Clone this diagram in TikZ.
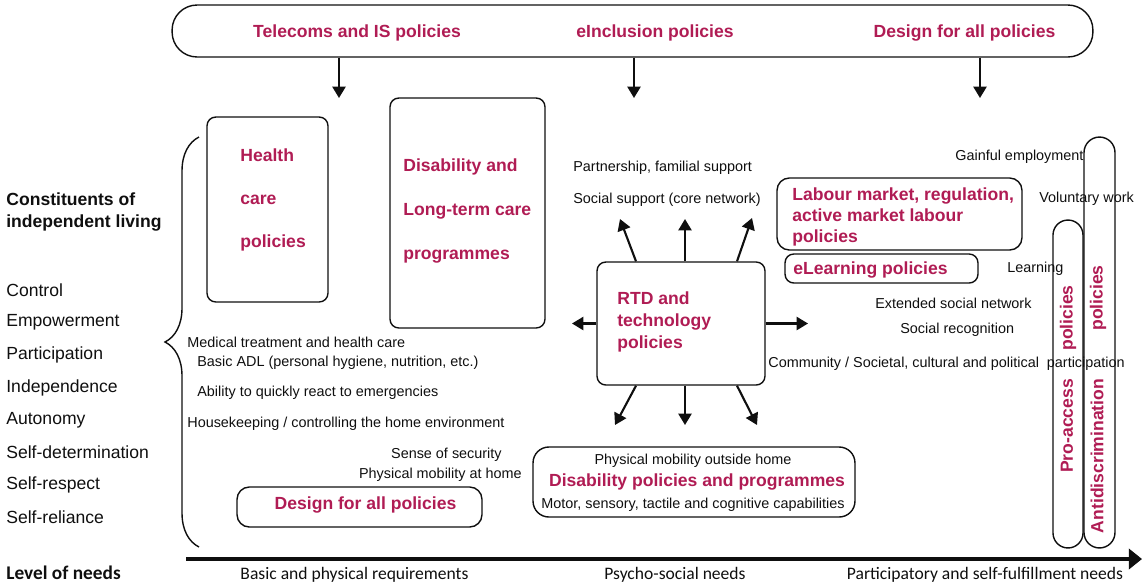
\documentclass[tikz,border=0pt]{standalone}
\usepackage{fontspec}
\setmainfont{Liberation Sans}
\newfontfamily\axisfont{Carlito}
\usepackage{tikz}
\usetikzlibrary{arrows.meta, positioning, calc, decorations.pathreplacing}
\definecolor{mycrimson}{RGB}{176,28,84}
\definecolor{myink}{RGB}{15,15,15}
\tikzset{
  polbox/.style={rectangle, draw=myink, line width=0.8pt, inner sep=0pt,
    rounded corners=6pt},
  capsule/.style={rectangle, draw=myink, line width=0.8pt, inner sep=0pt},
  poltext/.style={font=\bfseries\fontsize{10}{12}\selectfont, color=mycrimson,
    inner sep=0pt},
  needtext/.style={font=\fontsize{8.2}{10}\selectfont, color=myink,
    inner sep=0pt},
  constext/.style={font=\fontsize{10}{12}\selectfont, color=myink,
    anchor=west, inner sep=0pt},
  axistext/.style={font=\axisfont\fontsize{10}{12}\selectfont, color=myink,
    inner sep=0pt},
  arrow/.style={-{Triangle[length=6.5pt, width=7.5pt]}, line width=1.2pt,
    color=myink},
  axisarrow/.style={-{Triangle[length=7.5pt, width=11.5pt]}, line width=2.3pt,
    color=myink},
  line/.style={line width=0.8pt, color=myink}
}

\begin{document}
\begin{tikzpicture}[x=0.02cm, y=-0.02cm]
  \useasboundingbox (0,0) rectangle (1143,586);

  % Policy banner on top
  \node[polbox, rounded corners=0.5cm, minimum width=18.42cm,
    minimum height=1.04cm] (banner) at (632.5,31) {};
  \node[poltext] (telecoms) at (357,33) {Telecoms and IS policies};
  \node[poltext] (eincl) at (655,33) {eInclusion policies};
  \node[poltext] (dfatop) at (964.5,33) {Design for all policies};
  \foreach \name/\xx in {ta/339, tb/634, tc/980} {
    \coordinate (\name) at (\xx,98);
    \draw[arrow] (banner.south -| \name) -- (\name);
  }

  % Constituents of independent living
  \node[constext, font=\bfseries\fontsize{10}{12}\selectfont, align=left]
    (const) at (6,212) {Constituents of\\independent living};
  \foreach \lbl [count=\i] in {Control, Empowerment, Participation,
      Independence, Autonomy, Self-determination, Self-respect, Self-reliance}
    \node[constext] (c\i) at (6,257.5+32.5*\i) {\lbl};
  \draw[line, decorate, decoration={brace, amplitude=0.68cm}]
    (199,547) -- (199,137);

  % Care boxes
  \node[polbox, rounded corners=5pt, minimum width=2.42cm,
    minimum height=3.7cm] (health) at (267.5,209.5) {};
  \node[poltext, anchor=west, align=left,
    font=\bfseries\fontsize{10}{24.5}\selectfont] (healthtxt) at (240,200)
    {Health\\care\\policies};
  \node[polbox, rounded corners=5pt, minimum width=3.1cm,
    minimum height=4.6cm] (ltc) at (467.5,213) {};
  \node[poltext, anchor=west, align=left,
    font=\bfseries\fontsize{10}{24.8}\selectfont] (ltctxt) at (403,211)
    {Disability and\\Long-term care\\programmes};

  % RTD in the middle
  \node[polbox, rounded corners=5pt, minimum width=3.36cm,
    minimum height=2.46cm] (rtd) at (681,323.5) {};
  \node[poltext, anchor=west, align=left,
    font=\bfseries\fontsize{10}{12.5}\selectfont] (rtdtxt) at (617,322)
    {RTD and\\technology\\policies};
  \coordinate (up1) at (620,219);
  \coordinate (up2) at (685,219);
  \coordinate (up3) at (752,218);
  \coordinate (dn1) at (615,425);
  \coordinate (dn2) at (685,425);
  \coordinate (dn3) at (757,425);
  \foreach \dx/\n in {-45/1, 4/2, 56/3} {
    \draw[arrow] ($(rtd.north)+(\dx,0)$) -- (up\n);
    \draw[arrow] ($(rtd.south)+(\dx,0)$) -- (dn\n);
  }
  \coordinate (lt) at (572,323.5);
  \coordinate (rt) at (808,323.5);
  \draw[arrow] (rtd.west) -- (lt);
  \draw[arrow] (rtd.east) -- (rt);

  % Needs around RTD
  \node[needtext, anchor=west] (partner) at (573,168)
    {Partnership, familial support};
  \node[needtext, anchor=west] (socsup) at (573,200)
    {Social support (core network)};
  \node[needtext, anchor=west] (medical) at (187,342)
    {Medical treatment and health care};
  \node[needtext, anchor=west] (adl) at (197,363)
    {Basic ADL (personal hygiene, nutrition, etc.)};
  \node[needtext, anchor=west] (react) at (197,393)
    {Ability to quickly react to emergencies};
  \node[needtext, anchor=west] (house) at (187,424)
    {Housekeeping / controlling the home environment};
  \node[needtext, anchor=east] (secure) at (502,455) {Sense of security};
  \node[needtext, anchor=east] (mobhome) at (522,475)
    {Physical mobility at home};

  % Labour and learning
  \node[polbox, rounded corners=7pt, minimum width=4.9cm,
    minimum height=1.44cm] (labour) at (899.5,214) {};
  \node[poltext, anchor=west, align=left,
    font=\bfseries\fontsize{10}{12.2}\selectfont] (labourtxt) at (792,217)
    {Labour market, regulation,\\active market labour\\policies};
  \node[polbox, rounded corners=5pt, minimum width=3.86cm,
    minimum height=0.58cm] (elearn) at (881.5,268.5) {};
  \node[poltext, anchor=west] (elearntxt) at (793,270) {eLearning policies};

  % Participatory needs
  \node[needtext, anchor=west] (gainful) at (955,157) {Gainful employment};
  \node[needtext, anchor=west] (volwork) at (1039,199) {Voluntary work};
  \node[needtext, anchor=west] (learning) at (1007,269) {Learning};
  \node[needtext, anchor=west] (extnet) at (875,303)
    {Extended social network};
  \node[needtext, anchor=west] (socrec) at (900,330) {Social recognition};
  \node[needtext, anchor=west] (commun) at (768,364)
    {Community / Societal, cultural and political\ \ participation};

  % Capsules on the right
  \node[capsule, rounded corners=0.3cm, minimum width=0.6cm,
    minimum height=6.56cm] (proacc) at (1068,384) {};
  \node[capsule, rounded corners=0.31cm, minimum width=0.62cm,
    minimum height=8.22cm] (antidis) at (1099.5,342.5) {};
  \node[poltext, rotate=90] (proacctxt) at (1067,426) {Pro-access};
  \node[poltext, rotate=90] (proaccpol) at (1068,318) {policies};
  \node[poltext, rotate=90] (antidistxt) at (1097,456) {Antidiscrimination};
  \node[poltext, rotate=90] (antidispol) at (1098,298) {policies};

  % Lower boxes
  \node[polbox, rounded corners=7pt, minimum width=4.9cm,
    minimum height=0.8cm] (dfa) at (359.5,507) {};
  \node[poltext] (dfatxt) at (365.5,505) {Design for all policies};
  \node[polbox, rounded corners=9pt, minimum width=6.44cm,
    minimum height=1.4cm] (dispol) at (694,482) {};
  \node[needtext] (mobout) at (693,461) {Physical mobility outside home};
  \node[poltext] (dispoltxt) at (697,482)
    {Disability policies and programmes};
  \node[needtext] (motor) at (693,505)
    {Motor, sensory, tactile and cognitive capabilities};

  % Level of needs
  \coordinate (axs) at (186,559);
  \coordinate (axe) at (1142,559);
  \draw[axisarrow] (axs) -- (axe);
  \node[axistext, anchor=west, font=\axisfont\bfseries\fontsize{11}{13}\selectfont]
    (level) at (6,573) {Level of needs};
  \node[axistext] (basic) at (354.5,575) {Basic and physical requirements};
  \node[axistext] (psycho) at (675,575) {Psycho-social needs};
  \node[axistext] (partic) at (985,575)
    {Participatory and self-fulfillment needs};
\end{tikzpicture}
\end{document}
